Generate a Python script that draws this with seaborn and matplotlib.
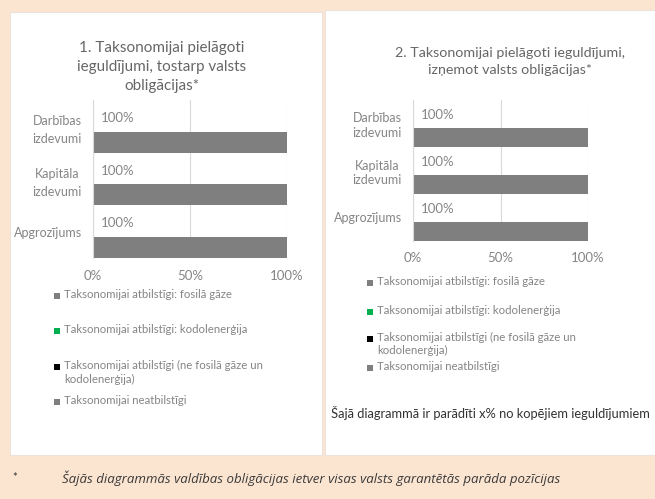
import numpy as np
import pandas as pd
import matplotlib.pyplot as plt
import seaborn as sns
from matplotlib.patches import Rectangle

# data
kategorijas = ["Darbības\nizdevumi", "Kapitāla\nizdevumi", "Apgrozījums"]
fosila_gaze = [0, 0, 0]
kodolenergija = [0, 0, 0]
citi_atbilstigi = [0, 0, 0]
neatbilstigi_1 = [100, 100, 100]
neatbilstigi_2 = [100, 100, 100]
serijas = ["Taksonomijai atbilstīgi: fosilā gāze",
           "Taksonomijai atbilstīgi: kodolenerģija",
           "Taksonomijai atbilstīgi (ne fosilā gāze un\nkodolenerģija)",
           "Taksonomijai neatbilstīgi"]
krasas = ["#7f7f7f", "#00b050", "#000000", "#7f7f7f"]
x_ticks = [0, 50, 100]
x_ticklabels = ["0%", "50%", "100%"]

sns.set_theme(style="white")
plt.rcParams['font.family'] = ['Lato', 'DejaVu Sans']

W, H = 655, 499
BG = "#fbe5d1"
GRID = "#d9d9d9"
TXT = "#858585"


def fx(px):
    return px / W


def fy(py):
    return 1 - py / H


fig = plt.figure(figsize=(6.55, 4.99), dpi=100, facecolor=BG)

# white panels (behind the axes)
for (x0, y0, x1, y1) in [(10, 12, 322, 455), (325, 10, 660, 455)]:
    fig.patches.append(Rectangle((fx(x0), fy(y1)), (x1 - x0) / W, (y1 - y0) / H,
                                 transform=fig.transFigure, facecolor="white",
                                 edgecolor="#ebe3dc", lw=0.8, zorder=-5))


def draw_panel(ax, neatb, tick_pad, ylab_spacing):
    atb = np.array(fosila_gaze) + np.array(kodolenergija) + np.array(citi_atbilstigi)
    df = pd.DataFrame({
        "kategorija": kategorijas * 2,
        "vertiba": list(atb) + list(neatb),
        "grupa": ["atbilstīgi"] * len(kategorijas) + ["neatbilstīgi"] * len(kategorijas),
    })
    sns.barplot(data=df, x="vertiba", y="kategorija", hue="grupa",
                hue_order=["atbilstīgi", "neatbilstīgi"],
                palette={"atbilstīgi": krasas[0], "neatbilstīgi": krasas[3]},
                width=1.2, gap=1 / 3, dodge=True, linewidth=0, errorbar=None,
                legend=False, orient="h", ax=ax)
    n = len(kategorijas)
    ax.set_xlim(0, 100)
    ax.set_ylim(n - 0.5, -0.5)
    ax.set_xticks(x_ticks)
    ax.set_xticklabels(x_ticklabels)
    ax.set_xlabel("")
    ax.set_ylabel("")
    ax.set_facecolor("none")
    ax.xaxis.grid(True, color=GRID, lw=0.8)
    ax.set_axisbelow(True)
    for s in ["top", "right", "bottom"]:
        ax.spines[s].set_visible(False)
    ax.spines["left"].set_color(GRID)
    ax.spines["left"].set_linewidth(0.8)
    ax.tick_params(axis="x", length=0, pad=tick_pad, labelsize=9.5, labelcolor=TXT)
    ax.tick_params(axis="y", which="major", length=0, pad=8, labelsize=9, labelcolor=TXT)
    ax.set_yticks(np.arange(n + 1) - 0.5, minor=True)
    ax.tick_params(axis="y", which="minor", length=4, width=0.8, color=GRID)
    for lbl in ax.get_yticklabels():
        lbl.set_multialignment("center")
        lbl.set_linespacing(ylab_spacing)
    for i, v in enumerate(neatb):
        ax.annotate(f"{v}%", xy=(0, i), xytext=(6, 6), textcoords="offset points",
                    va="center", ha="left", fontsize=9.5, color=TXT)


ax1 = fig.add_axes([fx(93), fy(258), (287 - 93) / W, (258 - 100) / H])
draw_panel(ax1, neatbilstigi_1, 9, 1.6)
ax2 = fig.add_axes([fx(413), fy(241), (588 - 413) / W, (241 - 100) / H])
draw_panel(ax2, neatbilstigi_2, 8, 1.25)

# titles
fig.text(fx(162), fy(41), "1. Taksonomijai pielāgoti\nieguldījumi, tostarp valsts\nobligācijas*",
         ha="center", va="top", fontsize=11, color="#666666", linespacing=1.45)
fig.text(fx(510), fy(47), "2. Taksonomijai pielāgoti ieguldījumi,\nizņemot valsts obligācijas*",
         ha="center", va="top", fontsize=10.3, color="#666666", linespacing=1.5)


def draw_legend(x_marker, x_text, ys, spacing):
    for name, col, y in zip(serijas, krasas, ys):
        fig.patches.append(Rectangle((fx(x_marker), fy(y + 3)), 6 / W, 6 / H,
                                     transform=fig.transFigure, facecolor=col,
                                     edgecolor="none", zorder=2))
        fig.text(fx(x_text), fy(y - 7), name, ha="left", va="top", fontsize=8.2,
                 color=TXT, linespacing=spacing)


draw_legend(54, 64, [296, 331, 367, 402], 1.3)
draw_legend(367, 377, [283, 312, 339, 368], 1.2)

fig.text(fx(331), fy(413), "Šajā diagrammā ir parādīti x% no kopējiem ieguldījumiem",
         ha="left", va="center", fontsize=9.3, color="#333333")

# footnote
fig.text(fx(12), fy(478), "*", ha="left", va="center", fontsize=8, color="#333333")
fig.text(fx(62), fy(478),
         "Šajās diagrammās valdības obligācijas ietver visas valsts garantētās parāda pozīcijas",
         ha="left", va="center", fontsize=9.5, style="italic", color="#3a3a3a",
         family=["Open Sans", "DejaVu Sans"])

fig.savefig("out.png", dpi=100, facecolor=BG)
